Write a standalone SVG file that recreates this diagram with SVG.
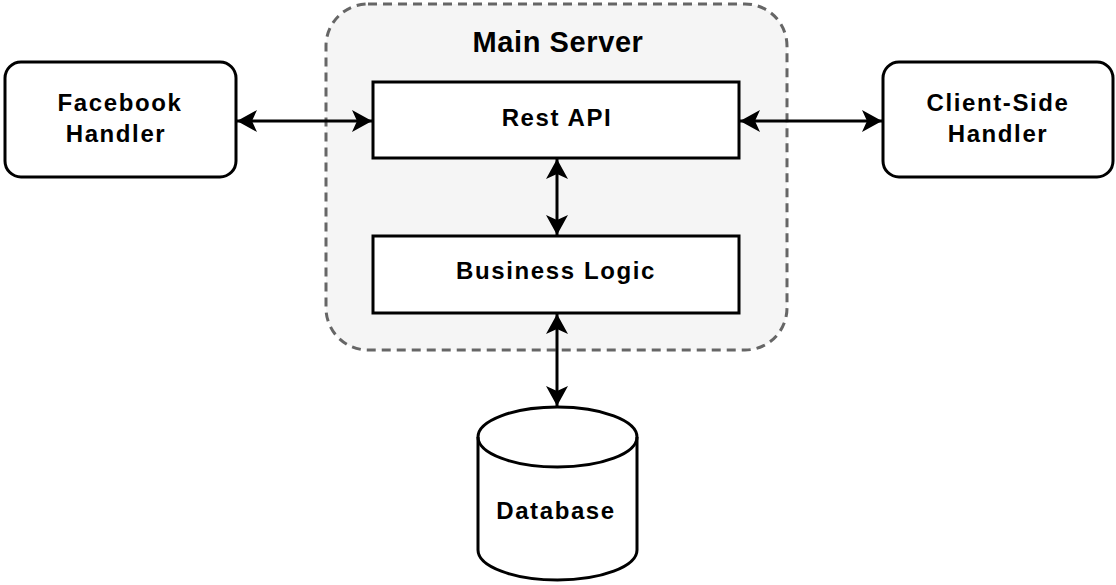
<svg xmlns="http://www.w3.org/2000/svg" width="1116" height="585" viewBox="0 0 1116 585">
  <defs>
    <marker id="arrow" viewBox="0 0 20 22" refX="20" refY="11" markerWidth="20" markerHeight="22" markerUnits="userSpaceOnUse" orient="auto-start-reverse">
      <path d="M0,0 L20,11 L0,22 L5,11 Z" fill="#000"/>
    </marker>
    <style>
      .box { fill: #fff; stroke: #000; stroke-width: 3; }
      .label { font-family: "Liberation Sans", Arial, sans-serif; font-weight: bold; font-size: 24px; letter-spacing: 1.6px; fill: #000; text-anchor: middle; dominant-baseline: central; }
      .title { font-size: 29px; letter-spacing: 0.6px; }
      .link { stroke: #000; stroke-width: 3; fill: none; marker-start: url(#arrow); marker-end: url(#arrow); }
    </style>
  </defs>

  <!-- container for the server components -->
  <g id="main-server">
    <rect x="326" y="4" width="461" height="346" rx="42" ry="42" fill="#f5f5f5" stroke="#666" stroke-width="3" stroke-dasharray="9 6"/>
    <text class="label title" x="558" y="41.5">Main Server</text>
  </g>

  <g id="rest-api">
    <rect class="box" x="373" y="82" width="366" height="76"/>
    <text class="label" x="557" y="117">Rest API</text>
  </g>

  <g id="business-logic">
    <rect class="box" x="373" y="236" width="366" height="77"/>
    <text class="label" x="556" y="270.5">Business Logic</text>
  </g>

  <g id="facebook-handler">
    <rect class="box" x="5" y="62" width="231" height="115" rx="16" ry="16"/>
    <text class="label" x="120" y="102.5">Facebook</text>
    <text class="label" x="116" y="133">Handler</text>
  </g>

  <g id="client-side-handler">
    <rect class="box" x="883" y="62" width="230" height="115" rx="16" ry="16"/>
    <text class="label" x="998" y="102.5">Client-Side</text>
    <text class="label" x="998" y="133">Handler</text>
  </g>

  <g id="database">
    <path class="box" d="M478,437 A79.5,30 0 0 1 637,437 L637,550 A79.5,30 0 0 1 478,550 Z"/>
    <path d="M478,437 A79.5,30 0 0 0 637,437" fill="none" stroke="#000" stroke-width="3"/>
    <text class="label" x="556" y="510">Database</text>
  </g>

  <g id="connectors">
    <line class="link" x1="237" y1="121" x2="372" y2="121"/>
    <line class="link" x1="740" y1="121" x2="882" y2="121"/>
    <line class="link" x1="557" y1="159" x2="557" y2="235"/>
    <line class="link" x1="557" y1="314" x2="557" y2="406"/>
  </g>
</svg>
